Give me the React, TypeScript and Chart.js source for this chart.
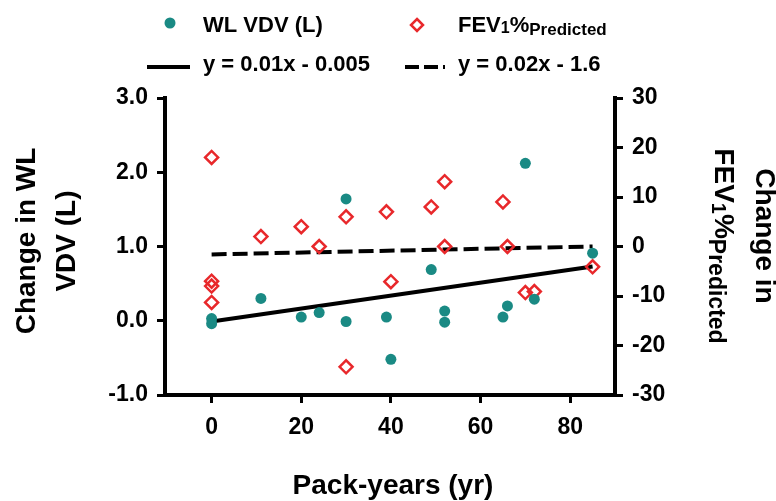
import React, { useEffect, useRef } from "react";
import { Chart, registerables } from "chart.js";

Chart.register(...registerables);

// ---- data ----
const wlX = [0, 0, 11, 20, 24, 30, 30, 39, 40, 49, 52, 52, 65, 66, 70, 72, 85];
const wlY = [0.03, -0.04, 0.3, 0.05, 0.11, 1.64, -0.01, 0.05, -0.52, 0.69, 0.13, -0.02, 0.05, 0.2, 2.12, 0.29, 0.91];

const fevX = [0, 0, 0, 0, 11, 20, 24, 30, 30, 39, 40, 49, 52, 52, 65, 66, 70, 72, 85];
const fevY = [18, -7, -8, -11.3, 2, 4, 0, 6, -24.3, 7, -7.1, 8, 13.1, 0, 9, 0, -9.3, -9.1, -4.1];

const solidX = [0, 85];
const solidY = [-0.01, 0.73];
const dashedX = [0, 85];
const dashedY = [-1.6, 0];

const xTicks = [0, 20, 40, 60, 80];
const yLeftTicks = [-1, 0, 1, 2, 3];
const yRightTicks = [-30, -20, -10, 0, 10, 20, 30];

const TEAL = "#1a8a84";
const RED = "#e8282b";
const FONT = "'Liberation Sans', Arial, sans-serif";

const pts = (xs: number[], ys: number[]) => xs.map((x, i) => ({ x, y: ys[i] }));

const overlayPlugin = {
  id: "overlay",
  afterDraw(chart: any) {
    const ctx = chart.ctx as CanvasRenderingContext2D;
    ctx.save();
    ctx.fillStyle = "#000";
    ctx.textAlign = "left";
    ctx.textBaseline = "alphabetic";

    // Legend row 1
    ctx.beginPath();
    ctx.fillStyle = TEAL;
    ctx.arc(170, 23, 5.5, 0, Math.PI * 2);
    ctx.fill();
    ctx.fillStyle = "#000";
    ctx.font = `bold 22px ${FONT}`;
    ctx.fillText("WL VDV (L)", 203, 32);

    ctx.beginPath();
    ctx.strokeStyle = RED;
    ctx.lineWidth = 2.5;
    const dx = 417, dy = 25, ds = 6;
    ctx.moveTo(dx, dy - ds);
    ctx.lineTo(dx + ds, dy);
    ctx.lineTo(dx, dy + ds);
    ctx.lineTo(dx - ds, dy);
    ctx.closePath();
    ctx.stroke();

    let x = 458;
    ctx.font = `bold 22px ${FONT}`;
    ctx.fillText("FEV", x, 32);
    x += ctx.measureText("FEV").width;
    ctx.font = `bold 16px ${FONT}`;
    ctx.fillText("1", x, 33);
    x += ctx.measureText("1").width;
    ctx.font = `bold 22px ${FONT}`;
    ctx.fillText("%", x, 32);
    x += ctx.measureText("%").width;
    ctx.font = `bold 17px ${FONT}`;
    ctx.fillText("Predicted", x, 35);

    // Legend row 2
    ctx.strokeStyle = "#000";
    ctx.lineWidth = 4;
    ctx.beginPath();
    ctx.moveTo(147, 67);
    ctx.lineTo(190, 67);
    ctx.stroke();
    ctx.font = `bold 22px ${FONT}`;
    ctx.fillText("y = 0.01x - 0.005", 203, 71);

    ctx.beginPath();
    ctx.setLineDash([14, 5]);
    ctx.moveTo(405, 67);
    ctx.lineTo(445, 67);
    ctx.stroke();
    ctx.setLineDash([]);
    ctx.fillText("y = 0.02x - 1.6", 458, 71);

    // X title
    ctx.font = `bold 28px ${FONT}`;
    ctx.textAlign = "center";
    ctx.fillText("Pack-years (yr)", 393, 494);

    // Left title
    ctx.save();
    ctx.translate(35, 241);
    ctx.rotate(-Math.PI / 2);
    ctx.fillText("Change in WL", 0, 0);
    ctx.fillText("VDV (L)", 0, 40);
    ctx.restore();

    // Right title
    ctx.save();
    ctx.translate(756, 236);
    ctx.rotate(Math.PI / 2);
    ctx.textAlign = "center";
    ctx.font = `bold 28px ${FONT}`;
    ctx.fillText("Change in", 0, 0);
    ctx.restore();

    ctx.save();
    ctx.translate(715, 246);
    ctx.rotate(Math.PI / 2);
    ctx.textAlign = "left";
    const segs = [
      { t: "FEV", f: 28, b: 0 },
      { t: "1", f: 20, b: 3 },
      { t: "%", f: 28, b: 0 },
      { t: "Predicted", f: 23, b: 6 },
    ];
    let total = 0;
    for (const s of segs) {
      ctx.font = `bold ${s.f}px ${FONT}`;
      total += ctx.measureText(s.t).width;
    }
    let u = -total / 2;
    for (const s of segs) {
      ctx.font = `bold ${s.f}px ${FONT}`;
      ctx.fillText(s.t, u, s.b);
      u += ctx.measureText(s.t).width;
    }
    ctx.restore();

    ctx.restore();
  },
};

export default function App() {
  const ref = useRef<HTMLCanvasElement | null>(null);

  useEffect(() => {
    if (!ref.current) return;
    const tickFont = { family: FONT, size: 23, weight: "bold" as const };
    const axisCommon = {
      grid: {
        drawOnChartArea: false,
        drawTicks: true,
        tickLength: 8,
        color: "#000",
        lineWidth: 3,
      },
      border: { display: true, color: "#000", width: 4 },
    };
    const chart = new Chart(ref.current, {
      type: "scatter",
      data: {
        datasets: [
          {
            type: "scatter",
            label: "WL VDV (L)",
            data: pts(wlX, wlY),
            yAxisID: "y",
            pointStyle: "circle",
            pointRadius: 5.5,
            pointBackgroundColor: TEAL,
            pointBorderWidth: 0,
            borderWidth: 0,
          },
          {
            type: "scatter",
            label: "FEV1%Predicted",
            data: pts(fevX, fevY),
            yAxisID: "y2",
            pointStyle: "rectRot",
            pointRadius: 6.5,
            pointBackgroundColor: "rgba(0,0,0,0)",
            pointBorderColor: RED,
            pointBorderWidth: 2.5,
          },
          {
            type: "line",
            label: "y = 0.01x - 0.005",
            data: pts(solidX, solidY),
            yAxisID: "y",
            borderColor: "#000",
            borderWidth: 4,
            pointRadius: 0,
            fill: false,
          },
          {
            type: "line",
            label: "y = 0.02x - 1.6",
            data: pts(dashedX, dashedY),
            yAxisID: "y2",
            borderColor: "#000",
            borderWidth: 4,
            borderDash: [15, 6],
            pointRadius: 0,
            fill: false,
          },
        ],
      },
      options: {
        responsive: false,
        animation: false,
        layout: { padding: { top: 98, left: 0, right: 0, bottom: 0 } },
        plugins: { legend: { display: false }, tooltip: { enabled: false } },
        scales: {
          x: {
            type: "linear",
            position: "bottom",
            min: -10.4,
            max: 90,
            ...axisCommon,
            ticks: { font: tickFont, color: "#000", padding: 11 },
            afterBuildTicks: (s: any) => {
              s.ticks = xTicks.map((v) => ({ value: v }));
            },
            afterFit: (s: any) => {
              s.height = 106;
            },
          },
          y: {
            type: "linear",
            position: "left",
            min: -1,
            max: 3,
            ...axisCommon,
            ticks: {
              font: tickFont,
              color: "#000",
              padding: 9,
              callback: (v: any) => Number(v).toFixed(1),
            },
            afterBuildTicks: (s: any) => {
              s.ticks = yLeftTicks.map((v) => ({ value: v }));
            },
            afterFit: (s: any) => {
              s.width = 165;
            },
          },
          y2: {
            type: "linear",
            position: "right",
            min: -30,
            max: 30,
            ...axisCommon,
            ticks: { font: tickFont, color: "#000", padding: 9 },
            afterBuildTicks: (s: any) => {
              s.ticks = yRightTicks.map((v) => ({ value: v }));
            },
            afterFit: (s: any) => {
              s.width = 161;
            },
          },
        },
      },
      plugins: [overlayPlugin],
    } as any);
    return () => chart.destroy();
  }, []);

  return (
    <div style={{ position: "absolute", left: 0, top: 0, width: 776, height: 501, background: "#fff" }}>
      <canvas ref={ref} width={776} height={501} />
    </div>
  );
}
